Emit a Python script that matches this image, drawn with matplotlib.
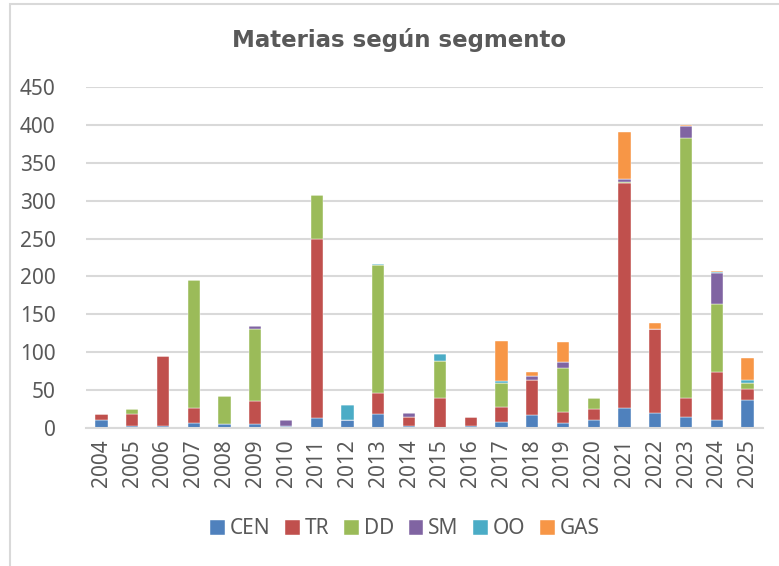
import matplotlib.pyplot as plt
import numpy as np
from matplotlib.patches import Rectangle

# datos
years = ["2004", "2005", "2006", "2007", "2008", "2009", "2010", "2011", "2012", "2013", "2014",
         "2015", "2016", "2017", "2018", "2019", "2020", "2021", "2022", "2023", "2024", "2025"]
cen = [10, 3, 3, 6, 5, 5, 3, 13, 11, 19, 2, 0, 3, 8, 17, 7, 11, 27, 20, 15, 11, 37]
tr = [8, 16, 92, 21, 0, 30, 0, 237, 0, 27, 13, 39, 11, 20, 46, 14, 14, 296, 110, 24, 63, 15]
dd = [0, 6, 0, 168, 37, 96, 0, 57, 0, 169, 0, 49, 0, 32, 0, 58, 15, 2, 0, 344, 90, 7]
sm = [0, 0, 0, 0, 0, 4, 7, 0, 0, 0, 5, 0, 0, 0, 5, 8, 0, 4, 0, 16, 40, 0]
oo = [0, 0, 0, 0, 0, 0, 0, 1, 19, 1, 0, 10, 0, 2, 0, 0, 0, 0, 0, 0, 2, 4]
gas = [0, 0, 0, 0, 0, 0, 0, 0, 0, 0, 0, 0, 0, 53, 6, 26, 0, 61, 9, 1, 1, 30]

series = [("CEN", cen, "#4F81BD"), ("TR", tr, "#C0504D"), ("DD", dd, "#9BBB59"),
          ("SM", sm, "#8064A2"), ("OO", oo, "#4BACC6"), ("GAS", gas, "#F79646")]

plt.rcParams['font.family'] = ['Noto Sans', 'DejaVu Sans']
txt_color = "#595959"

fig = plt.figure(figsize=(7.79, 5.66), dpi=100)
ax = fig.add_axes([86 / 779, 1 - 428 / 566, 677 / 779, 341 / 566])

# borde del área del gráfico (recortado a la derecha y abajo)
fig.patches.append(Rectangle((10 / 779, -0.1), 1.2, 1 - 4 / 566 + 0.1, transform=fig.transFigure,
                             fill=False, edgecolor="#D9D9D9", linewidth=1.5))

x = np.arange(len(years))
bottom = np.zeros(len(years))
for name, vals, color in series:
    v = np.array(vals, dtype=float)
    ax.bar(x, v, 0.4, bottom=bottom, color=color, label=name, edgecolor="white", linewidth=0.3)
    bottom += v

ax.set_xlim(-0.5, len(years) - 0.5)
ax.set_ylim(0, 450)
ax.set_yticks(np.arange(0, 451, 50))
ax.set_xticks(x)
ax.set_xticklabels(years, rotation=90)
ax.tick_params(axis="both", length=0, labelsize=15, colors=txt_color)
ax.tick_params(axis="y", pad=22)
ax.tick_params(axis="x", pad=8)
ax.grid(axis="y", color="#D9D9D9", linewidth=1.5)
ax.set_axisbelow(True)
for s in ["top", "right", "left"]:
    ax.spines[s].set_visible(False)
ax.spines["bottom"].set_color("#D9D9D9")
ax.spines["bottom"].set_linewidth(1.5)

fig.text(399 / 779, 1 - 40 / 566, "Materias según segmento", ha="center", va="center",
         fontsize=16.5, fontweight="bold", color=txt_color, family="DejaVu Sans")

fig.legend(loc="center", bbox_to_anchor=(405 / 779, 1 - 529 / 566), ncol=6, frameon=False,
           fontsize=15, labelcolor=txt_color, handlelength=0.7, handleheight=0.7,
           handletextpad=0.25, columnspacing=0.7)

fig.savefig("out.png", dpi=100)
